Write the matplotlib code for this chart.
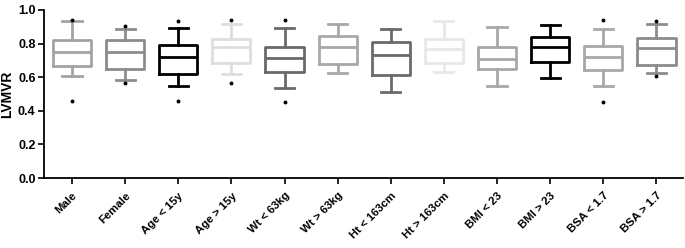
import matplotlib
matplotlib.use("Agg")
import matplotlib.pyplot as plt

plt.rcParams["font.family"] = ["Liberation Sans", "DejaVu Sans"]

# group labels and box statistics
labels = ["Male", "Female", "Age < 15y", "Age > 15y", "Wt < 63kg", "Wt > 63kg",
          "Ht < 163cm", "Ht > 163cm", "BMI < 23", "BMI > 23", "BSA < 1.7", "BSA > 1.7"]
whis_lo = [0.608, 0.582, 0.549, 0.618, 0.535, 0.626, 0.511, 0.632, 0.549, 0.596, 0.545, 0.626]
q1 = [0.669, 0.646, 0.618, 0.683, 0.632, 0.679, 0.612, 0.683, 0.648, 0.691, 0.642, 0.673]
med = [0.747, 0.747, 0.719, 0.778, 0.713, 0.778, 0.733, 0.768, 0.711, 0.778, 0.719, 0.776]
q3 = [0.822, 0.822, 0.790, 0.826, 0.778, 0.842, 0.808, 0.826, 0.778, 0.838, 0.784, 0.832]
whis_hi = [0.935, 0.885, 0.895, 0.915, 0.891, 0.915, 0.885, 0.935, 0.901, 0.911, 0.885, 0.915]
fliers = [[0.943, 0.459], [0.905, 0.568], [0.933, 0.457], [0.943, 0.568],
          [0.943, 0.455], [], [], [], [], [], [0.941, 0.455], [0.933, 0.608]]
colors = ["#a3a3a3", "#8c8c8c", "#000000", "#dedede", "#6a6a6a", "#a8a8a8",
          "#6a6a6a", "#e8e8e8", "#a8a8a8", "#000000", "#a8a8a8", "#8c8c8c"]

stats = []
for i, lab in enumerate(labels):
    stats.append(dict(label=lab, whislo=whis_lo[i], q1=q1[i], med=med[i],
                      q3=q3[i], whishi=whis_hi[i], fliers=fliers[i]))

fig = plt.figure(figsize=(6.85, 2.48), dpi=100)
ax = fig.add_axes([0.064, 0.282, 0.933, 0.678])

for i, (st, c) in enumerate(zip(stats, colors)):
    ax.bxp([st], positions=[i + 1], widths=0.72, patch_artist=False,
           boxprops=dict(color=c, linewidth=2.0),
           medianprops=dict(color=c, linewidth=2.0),
           whiskerprops=dict(color=c, linewidth=2.0),
           capprops=dict(color=c, linewidth=2.0),
           capwidths=0.36,
           flierprops=dict(marker="o", markersize=1.8, markerfacecolor="black",
                           markeredgecolor="black", linestyle="none"))

ax.set_xlim(0.47, 12.5)
ax.set_ylim(0, 1.0)
ax.set_yticks([0.0, 0.2, 0.4, 0.6, 0.8, 1.0])
ax.set_yticklabels(["0.0", "0.2", "0.4", "0.6", "0.8", "1.0"], fontsize=9, fontweight="bold")
ax.set_xticks(range(1, len(labels) + 1))
ax.set_xticklabels(labels, rotation=45, ha="right", rotation_mode="anchor",
                   fontsize=8.2, fontweight="bold")
ax.set_ylabel("LVMVR", fontsize=10, fontweight="bold")
ax.yaxis.set_label_coords(-0.046, 0.5)

for spine in ("top", "right"):
    ax.spines[spine].set_visible(False)
for spine in ("left", "bottom"):
    ax.spines[spine].set_linewidth(1.3)
ax.tick_params(axis="both", width=1.2, length=4, pad=2)
ax.tick_params(axis="x", pad=5)

fig.savefig("out.png", dpi=100, facecolor="white")
